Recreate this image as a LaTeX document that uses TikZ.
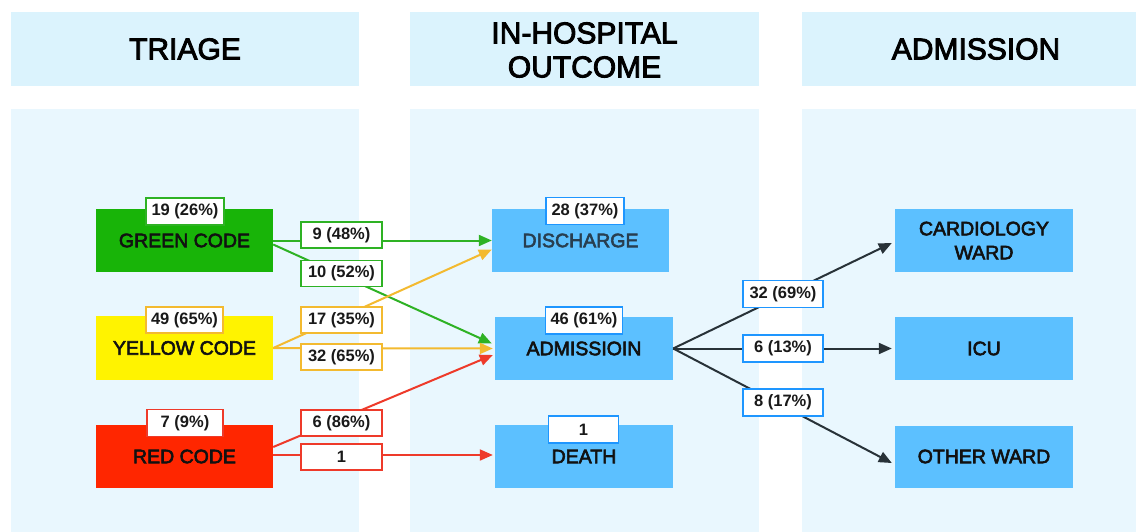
\documentclass[tikz,border=0pt]{standalone}
\usepackage{fontspec}
\setmainfont{Liberation Sans}
\newfontfamily\medfont{Liberation Sans}[FakeBold=3]
\usetikzlibrary{arrows.meta,calc}
\definecolor{hdrfill}{RGB}{219,243,253}
\definecolor{bodyfill}{RGB}{233,247,254}
\definecolor{cgreen}{RGB}{24,180,8}
\definecolor{cyellow}{RGB}{255,243,0}
\definecolor{cred}{RGB}{255,38,0}
\definecolor{cblue}{RGB}{92,192,255}
\definecolor{lgreen}{RGB}{46,178,36}
\definecolor{lyellow}{RGB}{243,186,48}
\definecolor{lred}{RGB}{238,58,42}
\definecolor{lblue}{RGB}{30,150,255}
\definecolor{ldark}{RGB}{40,50,56}
\definecolor{dtext}{RGB}{40,62,80}
\tikzset{
  hdrtext/.style={align=center, font=\medfont\fontsize{30}{34}\selectfont, text=black},
  box/.style={inner sep=0pt, align=center, font=\medfont\fontsize{19.5}{24}\selectfont, text={rgb,255:red,17;green,17;blue,17}},
  lab/.style={draw, fill=white, line width=1.5pt, inner sep=0pt, minimum width=81pt, minimum height=26pt, font=\bfseries\fontsize{16.5}{19}\selectfont, text={rgb,255:red,25;green,25;blue,25}},
  conn/.style={line width=2pt, -{Triangle[length=13pt,width=11pt]}},
}
\begin{document}
\begin{tikzpicture}[x=1pt,y=-1pt]
\useasboundingbox (0,0) rectangle (1136,532);
\fill[white] (0,0) rectangle (1136,532);
% column panels
\fill[hdrfill] (11,12) rectangle (359,86);
\fill[hdrfill] (410,12) rectangle (759,86);
\fill[hdrfill] (802,12) rectangle (1136,86);
\fill[bodyfill] (11,109) rectangle (359,532);
\fill[bodyfill] (410,109) rectangle (759,532);
\fill[bodyfill] (802,109) rectangle (1136,532);
\node[hdrtext] (htriage) at (185,49) {TRIAGE};
\node[hdrtext] (houtcome) at (584.5,50) {IN-HOSPITAL\\OUTCOME};
\node[hdrtext] (hadmission) at (976,49) {ADMISSION};
% main nodes
\node[box, fill=cgreen, minimum width=177pt, minimum height=63pt] (green) at (184.5,240.5) {GREEN CODE};
\node[box, fill=cyellow, minimum width=177pt, minimum height=64pt] (yellow) at (184.5,348) {YELLOW CODE};
\node[box, fill=cred, minimum width=177pt, minimum height=63pt] (red) at (184.5,456.5) {RED CODE};
\node[box, fill=cblue, text=dtext, minimum width=177pt, minimum height=63pt] (discharge) at (580.5,240.5) {DISCHARGE};
\node[box, fill=cblue, minimum width=178pt, minimum height=63pt] (admission) at (584,348.5) {ADMISSIOIN};
\node[box, fill=cblue, minimum width=178pt, minimum height=63pt] (death) at (584,456.5) {DEATH};
\node[box, fill=cblue, minimum width=178pt, minimum height=63pt] (cardio) at (984,240.5) {CARDIOLOGY\\WARD};
\node[box, fill=cblue, minimum width=178pt, minimum height=63pt] (icu) at (984,348.5) {ICU};
\node[box, fill=cblue, minimum width=178pt, minimum height=62pt] (other) at (984,456.5) {OTHER WARD};
% connectors
\draw[conn, lgreen] (green.east) -- (discharge.west);
\draw[conn, lgreen] ($(green.east)+(0,4)$) -- ($(admission.west)+(-3,-5)$);
\draw[conn, lyellow] (yellow.east) -- ($(discharge.west)+(0,9)$);
\draw[conn, lyellow] (yellow.east) -- ($(admission.west)+(-2,0)$);
\draw[conn, lred] ($(red.east)+(0,-9.5)$) -- ($(admission.west)+(-2,6.5)$);
\draw[conn, lred] ($(red.east)+(0,-1.5)$) -- ($(death.west)+(-2,-1.5)$);
\draw[conn, ldark] (admission.east) -- ($(cardio.west)+(-3,2.5)$);
\draw[conn, ldark] (admission.east) -- ($(icu.west)+(-3,0)$);
\draw[conn, ldark] (admission.east) -- ($(other.west)+(-3,6.5)$);
% connector labels
\node[lab, draw=lgreen] (l1) at (341.5,235) {9 (48\%)};
\node[lab, draw=lgreen] (l2) at (341.5,273.5) {10 (52\%)};
\node[lab, draw=lyellow] (l3) at (341.5,320) {17 (35\%)};
\node[lab, draw=lyellow] (l4) at (341.5,357) {32 (65\%)};
\node[lab, draw=lred] (l5) at (341.5,423) {6 (86\%)};
\node[lab, draw=lred] (l6) at (341.5,457) {1};
\node[lab, draw=lblue, minimum width=80pt, minimum height=27pt] (r1) at (783,294) {32 (69\%)};
\node[lab, draw=lblue, minimum width=80pt, minimum height=27pt] (r2) at (783,348.5) {6 (13\%)};
\node[lab, draw=lblue, minimum width=80pt, minimum height=27pt] (r3) at (783,402.5) {8 (17\%)};
% node count labels
\node[lab, draw=lgreen, minimum width=78pt, minimum height=27pt] (cg) at (185,211.5) {19 (26\%)};
\node[lab, draw=lyellow, minimum width=77pt, minimum height=26pt] (cy) at (184.5,320) {49 (65\%)};
\node[lab, draw=lred, minimum width=76pt, minimum height=27pt] (cr) at (185,423) {7 (9\%)};
\node[lab, draw=lblue, minimum width=78pt, minimum height=27pt] (cd) at (585,211) {28 (37\%)};
\node[lab, draw=lblue, minimum width=77pt, minimum height=27pt] (ca) at (584,320.5) {46 (61\%)};
\node[lab, draw=lblue, minimum width=70pt, minimum height=27pt] (ce) at (583.5,429.5) {1};
\end{tikzpicture}
\end{document}
